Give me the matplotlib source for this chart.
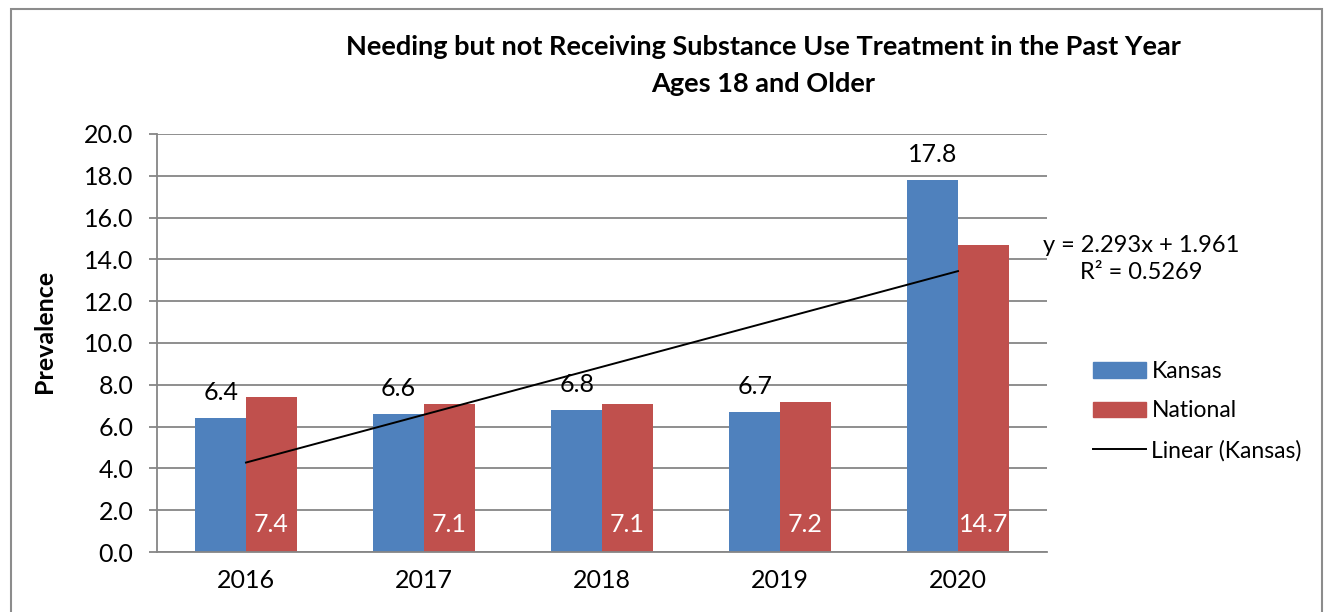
import numpy as np
import matplotlib
matplotlib.use("Agg")
import matplotlib.pyplot as plt
from matplotlib.patches import Rectangle, Patch
from matplotlib.lines import Line2D

plt.rcParams['font.family'] = ['Lato', 'DejaVu Sans']

# DATA
years = ["2016", "2017", "2018", "2019", "2020"]
kansas = [6.4, 6.6, 6.8, 6.7, 17.8]
national = [7.4, 7.1, 7.1, 7.2, 14.7]
eq_text = "y = 2.293x + 1.961\nR² = 0.5269"

blue = "#4F81BD"
red = "#C0504D"
grid_c = "#868686"
fs = 18

fig = plt.figure(figsize=(13.25, 6.12), dpi=100)
ax = fig.add_axes([157/1325, 60/612, 890/1325, 418/612])

x = np.arange(len(years))
w = 0.285
ax.bar(x - w/2, kansas, w, color=blue, zorder=2)
ax.bar(x + w/2, national, w, color=red, zorder=2)

# linear trendline on Kansas (Excel style, x = 1..n)
xs = np.arange(1, len(kansas) + 1)
m, c = np.polyfit(xs, kansas, 1)
ax.plot(x, m * xs + c, color="black", lw=1.4, zorder=3)

for xi, v in zip(x, kansas):
    ax.annotate(f"{v:.1f}", (xi - w/2, v), xytext=(0, 18.5), textcoords="offset points",
                ha="center", va="center", fontsize=fs, color="black", zorder=4)
for xi, v in zip(x, national):
    ax.annotate(f"{v:.1f}", (xi + w/2, 0), xytext=(0, 19.5), textcoords="offset points",
                ha="center", va="center", fontsize=fs, color="white", zorder=4)

ax.set_xlim(-0.5, len(years) - 0.5)
ax.set_ylim(0, 20)
yt = np.arange(0, 20.1, 2)
ax.set_yticks(yt)
ax.set_yticklabels([f"{t:.1f}" for t in yt])
ax.set_xticks(x)
ax.set_xticklabels(years)
ax.tick_params(axis="y", length=6, width=1.3, color=grid_c, labelsize=fs, pad=11)
ax.tick_params(axis="x", length=0, labelsize=fs, pad=12)
ax.yaxis.grid(True, color=grid_c, lw=1.3, zorder=0)
for s in ["top", "right"]:
    ax.spines[s].set_visible(False)
for s in ["left", "bottom"]:
    ax.spines[s].set_color(grid_c)
    ax.spines[s].set_linewidth(1.3)

fig.text(44/1325, 1 - 331/612, "Prevalence", rotation=90, ha="center", va="center",
         fontsize=fs, fontweight="bold")

fig.text(763/1325, 1 - 47/612, "Needing but not Receiving Substance Use Treatment in the Past Year",
         ha="center", va="center", fontsize=19.5, fontweight="bold")
fig.text(763/1325, 1 - 84/612, "Ages 18 and Older",
         ha="center", va="center", fontsize=19.5, fontweight="bold")

fig.text(1141/1325, 1 - 259/612, eq_text, ha="center", va="center",
         fontsize=17, linespacing=1.35, multialignment="center")

handles = [Patch(color=blue), Patch(color=red), Line2D([], [], color="black", lw=1.4)]
fig.legend(handles, ["Kansas", "National", "Linear (Kansas)"],
           loc="center left", bbox_to_anchor=(1093/1325, 1 - 411/612),
           frameon=False, fontsize=16.5, handlelength=2.3, handleheight=0.65,
           handletextpad=0.25, labelspacing=0.8, borderpad=0, borderaxespad=0)

fig.patches.append(Rectangle((11/1325, -0.2), (1322 - 11)/1325, 1.2 - 9/612,
                             transform=fig.transFigure, fill=False,
                             edgecolor="#8c8c8c", lw=1.5))

fig.savefig("out.png", dpi=100)
